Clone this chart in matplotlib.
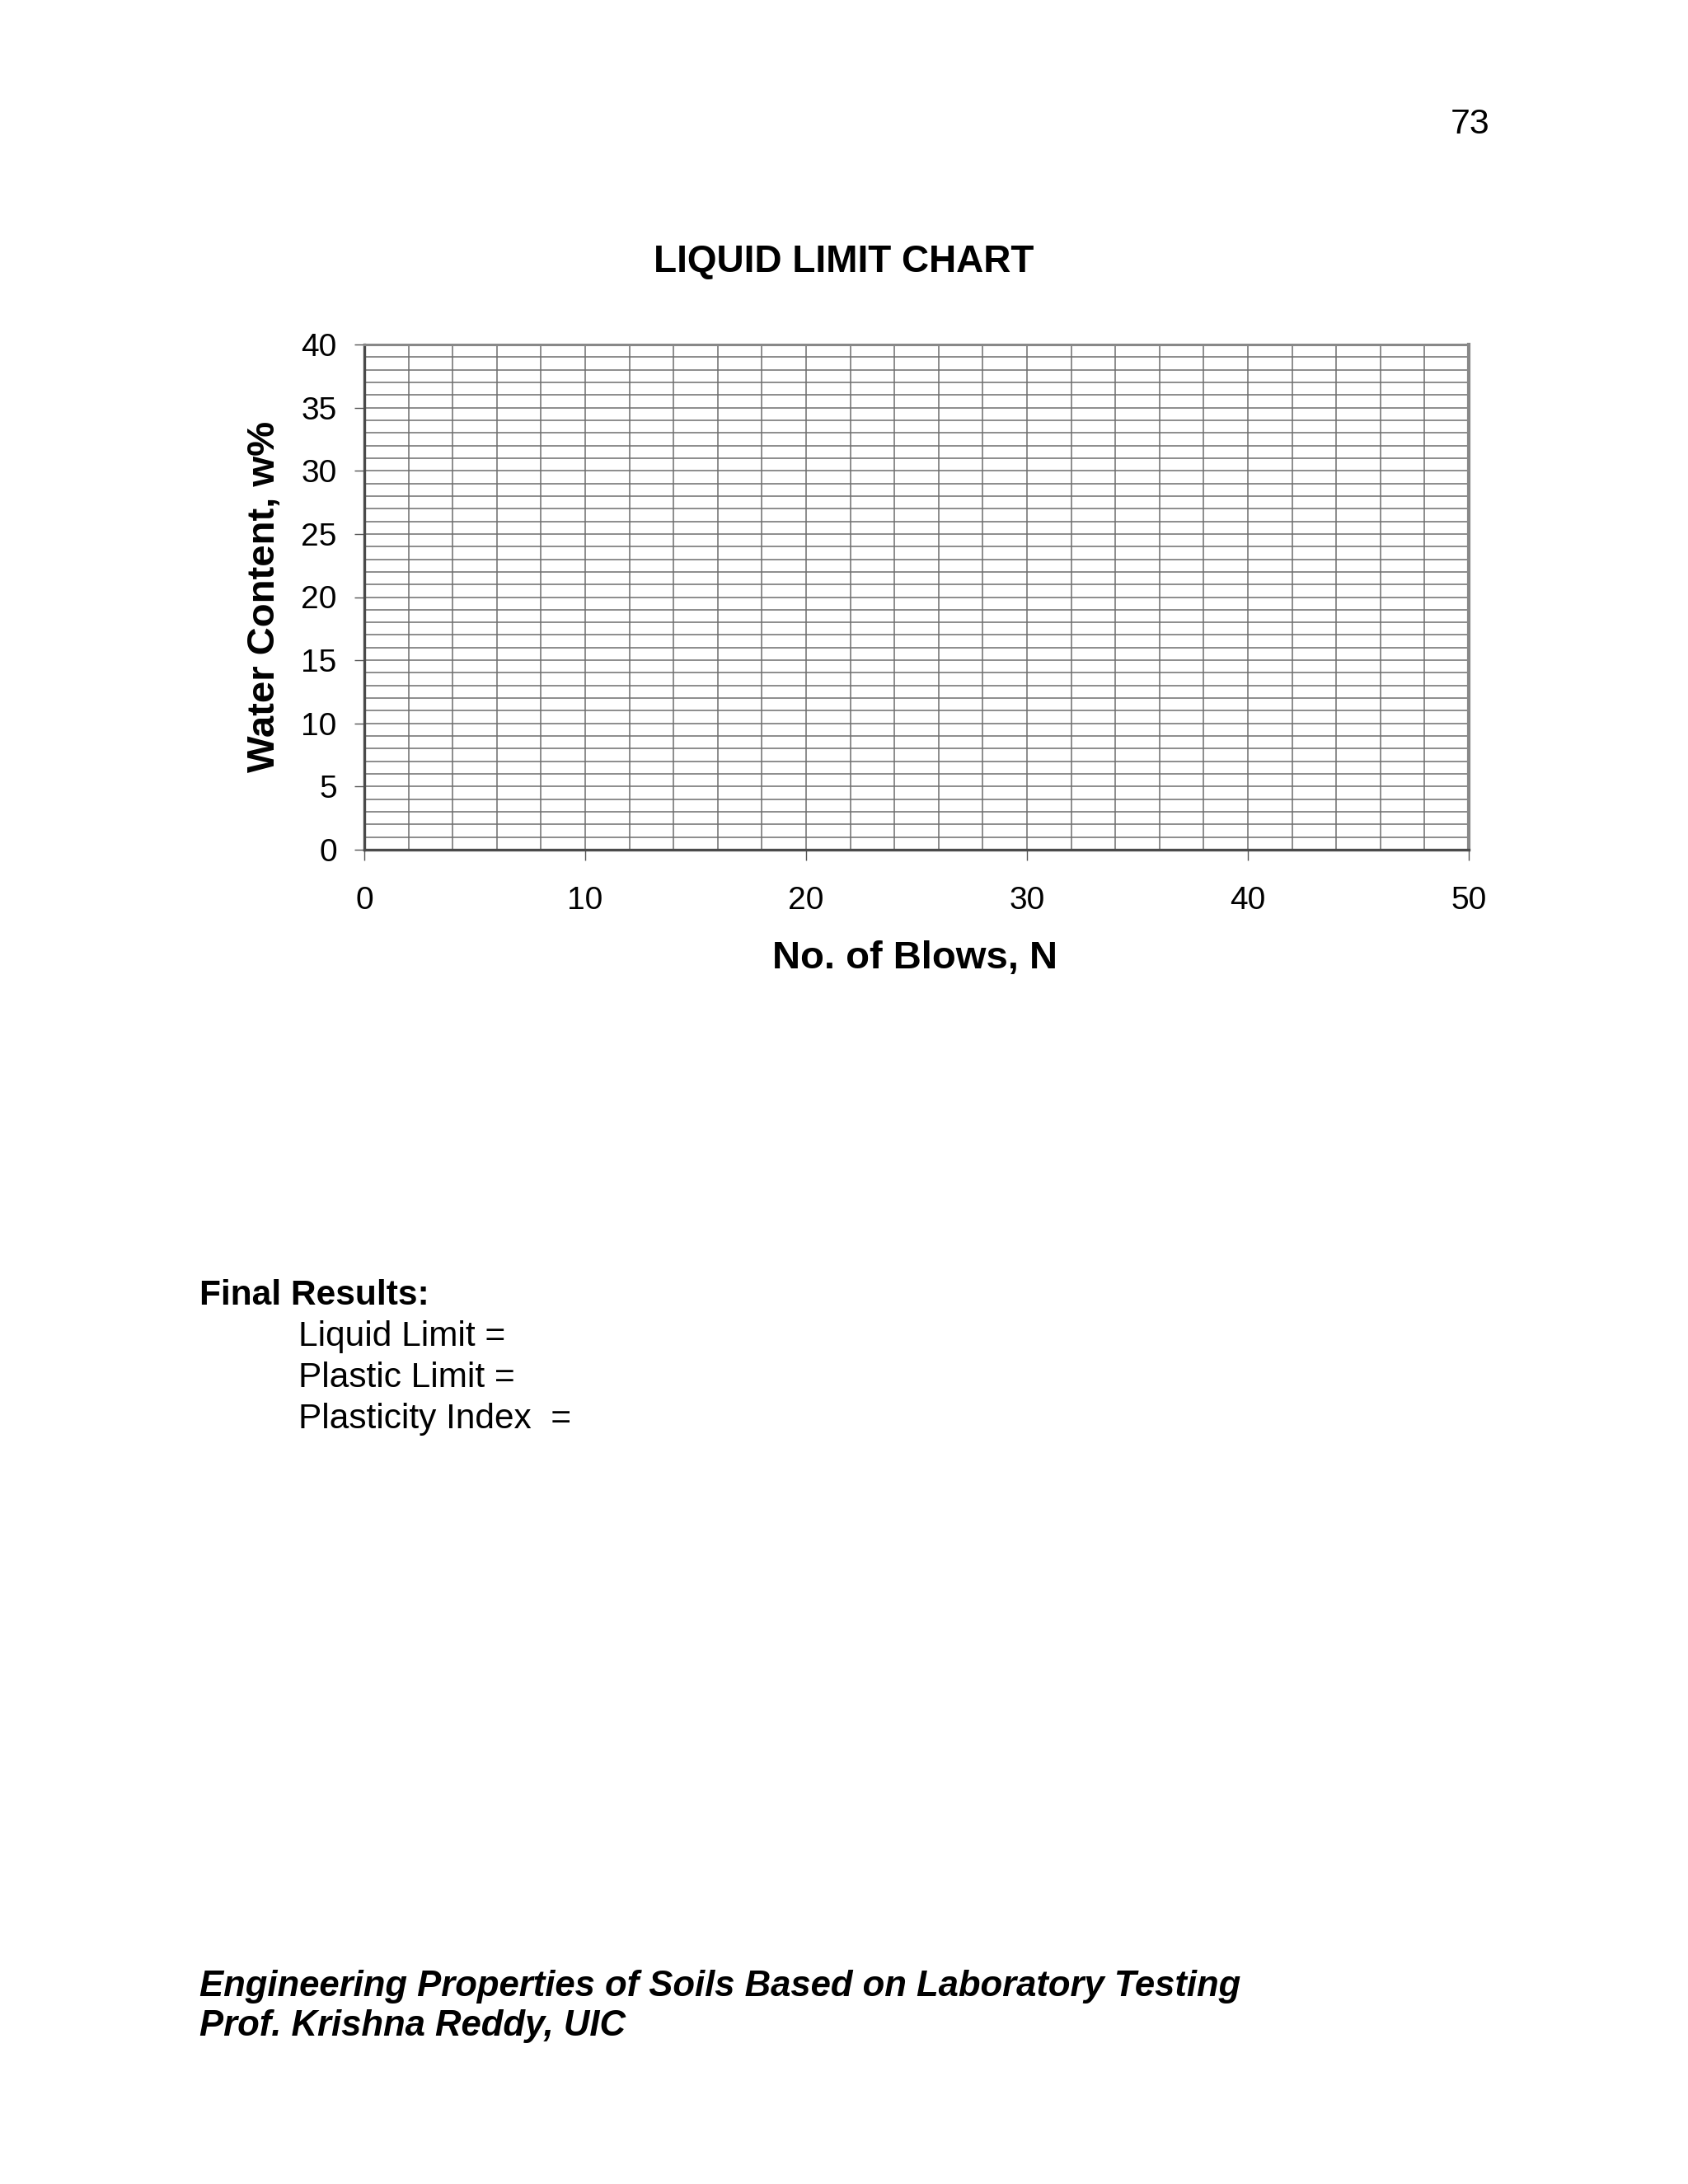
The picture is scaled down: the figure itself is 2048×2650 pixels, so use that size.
"""
Liquid limit chart page (blank worksheet)
"""
import matplotlib
matplotlib.use("Agg")
import matplotlib.pyplot as plt
import numpy as np

plt.rcParams['font.family'] = ['Liberation Sans', 'DejaVu Sans']

# chart data (blank grid, only scales)
x_limits = [0, 50]
y_limits = [0, 40]
x_major = [0, 10, 20, 30, 40, 50]
y_major = [0, 5, 10, 15, 20, 25, 30, 35, 40]
x_grid_step = 2
y_grid_step = 1

title = "LIQUID LIMIT CHART"
x_label = "No. of Blows, N"
y_label = "Water Content, w%"
page_number = "73"
results_header = "Final Results:"
results_lines = ["Liquid Limit =", "Plastic Limit =", "Plasticity Index  ="]
footer_lines = ["Engineering Properties of Soils Based on Laboratory Testing",
                "Prof. Krishna Reddy, UIC"]

W, H = 2048, 2650


def fx(px):
    return px / W


def fy(py):
    return 1 - py / H


fig = plt.figure(figsize=(W / 100, H / 100), dpi=100)
ax = fig.add_axes([fx(442), fy(1031), fx(1782) - fx(442), fy(418) - fy(1031)])

ax.set_xlim(*x_limits)
ax.set_ylim(*y_limits)
ax.set_xticks(x_major)
ax.set_yticks(y_major)
ax.set_xticks(np.arange(x_limits[0], x_limits[1] + 1, x_grid_step), minor=True)
ax.set_yticks(np.arange(y_limits[0], y_limits[1] + 1, y_grid_step), minor=True)
ax.grid(which='both', color='#6e6e6e', linewidth=1.1)
ax.set_axisbelow(True)

ax.tick_params(which='minor', length=0)
ax.tick_params(axis='y', which='major', direction='out', length=9, width=1,
               color='#555555', labelsize=28, pad=15)
ax.tick_params(axis='x', which='major', direction='out', length=9, width=1,
               color='#555555', labelsize=28, pad=23)

ax.spines['left'].set_color('#4a4a4a')
ax.spines['left'].set_linewidth(2.4)
ax.spines['bottom'].set_color('#4a4a4a')
ax.spines['bottom'].set_linewidth(2.4)
ax.spines['top'].set_color('#888888')
ax.spines['top'].set_linewidth(2.2)
ax.spines['right'].set_color('#888888')
ax.spines['right'].set_linewidth(3)

fig.text(fx(1024), fy(318), title, ha='center', va='center',
         fontsize=33, fontweight='bold')
fig.text(fx(1110), fy(1163), x_label, ha='center', va='center',
         fontsize=34, fontweight='bold')
fig.text(fx(321), fy(724), y_label, ha='center', va='center',
         fontsize=34, fontweight='bold', rotation=90)

fig.text(fx(1807), fy(162), page_number, ha='right', va='baseline', fontsize=31)

fig.text(fx(242), fy(1583), results_header, ha='left', va='baseline',
         fontsize=30.5, fontweight='bold')
for i, line in enumerate(results_lines):
    fig.text(fx(362), fy(1633 + 50 * i), line, ha='left', va='baseline', fontsize=30.5)

for i, line in enumerate(footer_lines):
    fig.text(fx(242), fy(2422 + 48 * i), line, ha='left', va='baseline',
             fontsize=31.4, fontweight='bold', fontstyle='italic')

fig.savefig("out.png", dpi=100, facecolor='white')
plt.close(fig)
